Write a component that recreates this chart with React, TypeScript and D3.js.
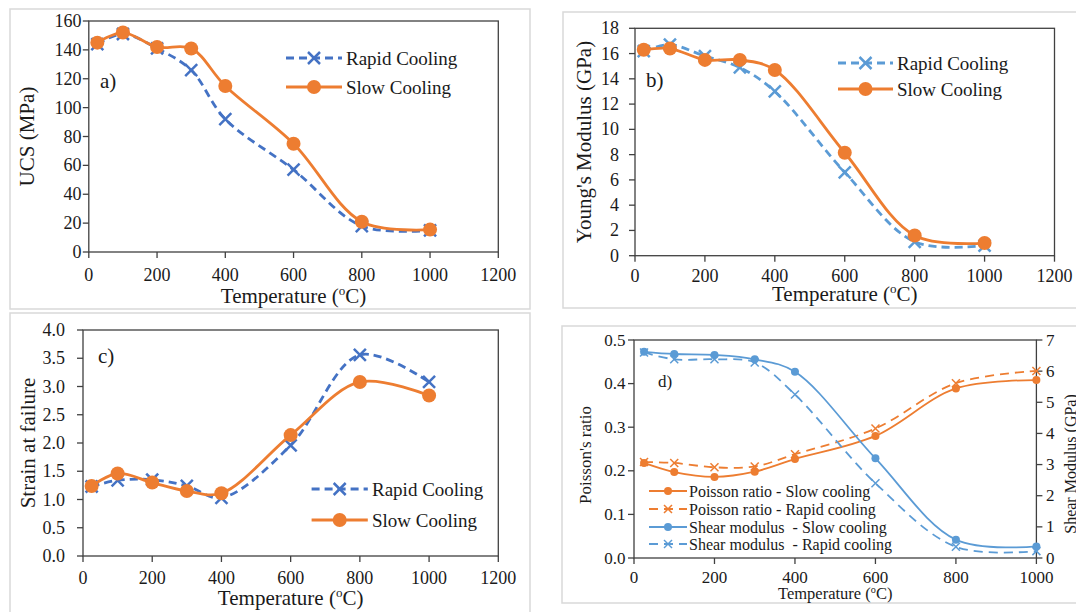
import React from 'react';
import * as d3 from 'd3';

// ---------- data ----------
const temps = [25, 100, 200, 300, 400, 600, 800, 1000];

const ucsRapid = [144, 151, 141, 126, 92, 57, 18, 15];
const ucsSlow = [145, 152, 142, 141, 115, 75, 21, 15.5];

const ymRapid = [16.2, 16.7, 15.8, 14.9, 13.0, 6.6, 1.1, 0.8];
const ymSlow = [16.3, 16.4, 15.5, 15.5, 14.7, 8.15, 1.6, 1.0];

const strainRapid = [1.23, 1.34, 1.35, 1.24, 1.03, 1.96, 3.56, 3.08];
const strainSlow = [1.24, 1.46, 1.3, 1.15, 1.11, 2.14, 3.08, 2.84];

const poissonSlow = [0.218, 0.197, 0.186, 0.198, 0.227, 0.28, 0.389, 0.408];
const poissonRapid = [0.22, 0.218, 0.208, 0.21, 0.238, 0.297, 0.401, 0.429];
const shearSlow = [6.62, 6.55, 6.52, 6.38, 5.98, 3.2, 0.59, 0.37];
const shearRapid = [6.6, 6.38, 6.38, 6.28, 5.25, 2.4, 0.36, 0.22];

const ticks1200 = [0, 200, 400, 600, 800, 1000, 1200];
const ticks1000 = [0, 200, 400, 600, 800, 1000];

const FONT = "'Liberation Serif', 'Times New Roman', serif";
const ORANGE = '#ED7D31';
const BLUE_DARK = '#4472C4';
const BLUE_LIGHT = '#5B9BD5';
const AXIS = '#404040';
const TEXT = '#1a1a1a';
const FRAME = '#d9d9d9';

type Pt = [number, number];

const curve = d3.curveCatmullRom.alpha(0.5);

function Cross({ x, y, s, color, w }: { x: number; y: number; s: number; color: string; w: number }) {
  return (
    <g stroke={color} strokeWidth={w}>
      <line x1={x - s} y1={y - s} x2={x + s} y2={y + s} />
      <line x1={x - s} y1={y + s} x2={x + s} y2={y - s} />
    </g>
  );
}

function TempTitle({ x, y, size }: { x: number; y: number; size: number }) {
  return (
    <text x={x} y={y} textAnchor="middle" fontSize={size} fontFamily={FONT} fill={TEXT}>
      Temperature (<tspan fontSize={size * 0.62} dy={-size * 0.38}>o</tspan>
      <tspan dy={size * 0.38}>C)</tspan>
    </text>
  );
}

interface SeriesDef {
  values: number[];
  color: string;
  dashed: boolean;
  marker: 'circle' | 'cross';
  axis?: 'left' | 'right';
}

function drawSeries(
  s: SeriesDef,
  x: d3.ScaleLinear<number, number>,
  y: d3.ScaleLinear<number, number>,
  lw: number,
  dash: string,
  r: number,
  cs: number,
  cw: number,
  key: string
) {
  const pts: Pt[] = temps.map((t, i) => [x(t), y(s.values[i])]);
  const line = d3.line<Pt>().curve(curve)(pts) || '';
  return (
    <g key={key}>
      <path d={line} fill="none" stroke={s.color} strokeWidth={lw} strokeDasharray={s.dashed ? dash : undefined} />
      {pts.map((p, i) =>
        s.marker === 'circle' ? (
          <circle key={i} cx={p[0]} cy={p[1]} r={r} fill={s.color} />
        ) : (
          <Cross key={i} x={p[0]} y={p[1]} s={cs} color={s.color} w={cw} />
        )
      )}
    </g>
  );
}

interface PanelProps {
  frame: [number, number, number, number];
  xr: [number, number];
  xmax: number;
  xticks: number[];
  yr: [number, number];
  ymax: number;
  ystep: number;
  yfmt: (v: number) => string;
  yLabelEnd: number;
  xLabelY: number;
  yTitle: string;
  yTitleX: number;
  xTitleY: number;
  label: string;
  labelPos: [number, number];
  series: SeriesDef[];
  rapidColor: string;
  legend: { x1: number; x2: number; y1: number; y2: number; tx: number };
}

function Panel(p: PanelProps) {
  const x = d3.scaleLinear().domain([0, p.xmax]).range(p.xr);
  const y = d3.scaleLinear().domain([0, p.ymax]).range(p.yr);
  const yticks = d3.range(0, p.ymax + p.ystep / 2, p.ystep);
  const [fx, fy, fw, fh] = p.frame;
  const L = p.legend;
  const mid = (L.x1 + L.x2) / 2;
  return (
    <g>
      <rect x={fx} y={fy} width={fw} height={fh} fill="#fff" stroke={FRAME} strokeWidth={1.5} />
      <rect x={p.xr[0]} y={p.yr[1]} width={p.xr[1] - p.xr[0]} height={p.yr[0] - p.yr[1]} fill="none" stroke={AXIS} strokeWidth={1.3} />
      {p.xticks.map((t) => (
        <g key={'xt' + t}>
          <line x1={x(t)} x2={x(t)} y1={p.yr[0]} y2={p.yr[0] + 6} stroke={AXIS} strokeWidth={1.3} />
          <text x={x(t)} y={p.xLabelY} textAnchor="middle" dominantBaseline="central" fontSize={18} fontFamily={FONT} fill={TEXT}>
            {t}
          </text>
        </g>
      ))}
      {yticks.map((t) => (
        <g key={'yt' + t}>
          <line x1={p.xr[0] - 6} x2={p.xr[0]} y1={y(t)} y2={y(t)} stroke={AXIS} strokeWidth={1.3} />
          <text x={p.yLabelEnd} y={y(t)} textAnchor="end" dominantBaseline="central" fontSize={18} fontFamily={FONT} fill={TEXT}>
            {p.yfmt(t)}
          </text>
        </g>
      ))}
      {p.series.map((s, i) => drawSeries(s, x, y, 2.8, '8 5', 7, 6, 2.5, 's' + i))}
      <text x={p.labelPos[0]} y={p.labelPos[1]} fontSize={21} fontFamily={FONT} fill={TEXT}>
        {p.label}
      </text>
      <TempTitle x={(p.xr[0] + p.xr[1]) / 2} y={p.xTitleY} size={21} />
      <text
        transform={`translate(${p.yTitleX},${(p.yr[0] + p.yr[1]) / 2}) rotate(-90)`}
        textAnchor="middle"
        dominantBaseline="central"
        fontSize={21}
        fontFamily={FONT}
        fill={TEXT}
      >
        {p.yTitle}
      </text>
      {/* legend */}
      <line x1={L.x1} x2={L.x2} y1={L.y1} y2={L.y1} stroke={p.rapidColor} strokeWidth={2.8} strokeDasharray="8 5" />
      <Cross x={mid} y={L.y1} s={6} color={p.rapidColor} w={2.5} />
      <text x={L.tx} y={L.y1} dominantBaseline="central" fontSize={19} fontFamily={FONT} fill={TEXT}>
        Rapid Cooling
      </text>
      <line x1={L.x1} x2={L.x2} y1={L.y2} y2={L.y2} stroke={ORANGE} strokeWidth={2.8} />
      <circle cx={mid} cy={L.y2} r={7} fill={ORANGE} />
      <text x={L.tx} y={L.y2} dominantBaseline="central" fontSize={19} fontFamily={FONT} fill={TEXT}>
        Slow Cooling
      </text>
    </g>
  );
}

function PanelD() {
  const xr: [number, number] = [634, 1036.4];
  const yr: [number, number] = [558, 340];
  const x = d3.scaleLinear().domain([0, 1000]).range(xr);
  const yL = d3.scaleLinear().domain([0, 0.5]).range(yr);
  const yR = d3.scaleLinear().domain([0, 7]).range(yr);
  const lticks = d3.range(0, 0.55, 0.1);
  const rticks = d3.range(0, 8, 1);
  const series: { s: SeriesDef; label: string }[] = [
    { s: { values: poissonSlow, color: ORANGE, dashed: false, marker: 'circle', axis: 'left' }, label: 'Poisson ratio - Slow cooling' },
    { s: { values: poissonRapid, color: ORANGE, dashed: true, marker: 'cross', axis: 'left' }, label: 'Poisson ratio - Rapid cooling' },
    { s: { values: shearSlow, color: BLUE_LIGHT, dashed: false, marker: 'circle', axis: 'right' }, label: 'Shear modulus  - Slow cooling' },
    { s: { values: shearRapid, color: BLUE_LIGHT, dashed: true, marker: 'cross', axis: 'right' }, label: 'Shear modulus  - Rapid cooling' },
  ];
  const legY = [491, 509, 527, 544];
  return (
    <g>
      <rect x={562} y={326} width={540} height={277} fill="#fff" stroke={FRAME} strokeWidth={1.5} />
      <rect x={xr[0]} y={yr[1]} width={xr[1] - xr[0]} height={yr[0] - yr[1]} fill="none" stroke={AXIS} strokeWidth={1.3} />
      {ticks1000.map((t) => (
        <g key={'xt' + t}>
          <line x1={x(t)} x2={x(t)} y1={yr[0]} y2={yr[0] + 6} stroke={AXIS} strokeWidth={1.3} />
          <text x={x(t)} y={577.5} textAnchor="middle" dominantBaseline="central" fontSize={17} fontFamily={FONT} fill={TEXT}>
            {t}
          </text>
        </g>
      ))}
      {lticks.map((t) => (
        <g key={'yl' + t}>
          <line x1={xr[0] - 6} x2={xr[0]} y1={yL(t)} y2={yL(t)} stroke={AXIS} strokeWidth={1.3} />
          <text x={625.5} y={yL(t)} textAnchor="end" dominantBaseline="central" fontSize={17} fontFamily={FONT} fill={TEXT}>
            {d3.format('.1f')(t)}
          </text>
        </g>
      ))}
      {rticks.map((t) => (
        <g key={'yr' + t}>
          <line x1={xr[1]} x2={xr[1] + 6} y1={yR(t)} y2={yR(t)} stroke={AXIS} strokeWidth={1.3} />
          <text x={1046} y={yR(t)} textAnchor="start" dominantBaseline="central" fontSize={17} fontFamily={FONT} fill={TEXT}>
            {t}
          </text>
        </g>
      ))}
      {series.map(({ s }, i) => drawSeries(s, x, s.axis === 'left' ? yL : yR, 1.8, '9 6', 4, 4, 1.5, 'd' + i))}
      <text x={658} y={387} fontSize={17} fontFamily={FONT} fill={TEXT}>
        d)
      </text>
      <TempTitle x={(xr[0] + xr[1]) / 2} y={599} size={16.5} />
      <text transform="translate(585,455) rotate(-90)" textAnchor="middle" dominantBaseline="central" fontSize={17} fontFamily={FONT} fill={TEXT}>
        Poisson's ratio
      </text>
      <text transform="translate(1070,464) rotate(-90)" textAnchor="middle" dominantBaseline="central" fontSize={16} fontFamily={FONT} fill={TEXT}>
        Shear Modulus (GPa)
      </text>
      {series.map(({ s, label }, i) => (
        <g key={'lg' + i}>
          <line x1={649} x2={687} y1={legY[i]} y2={legY[i]} stroke={s.color} strokeWidth={1.8} strokeDasharray={s.dashed ? '9 6' : undefined} />
          {s.marker === 'circle' ? (
            <circle cx={668} cy={legY[i]} r={4} fill={s.color} />
          ) : (
            <Cross x={668} y={legY[i]} s={4} color={s.color} w={1.5} />
          )}
          <text x={689} y={legY[i]} dominantBaseline="central" fontSize={16} fontFamily={FONT} fill={TEXT} xmlSpace="preserve">
            {label}
          </text>
        </g>
      ))}
    </g>
  );
}

export default function App() {
  return (
    <svg
      width={1076}
      height={612}
      viewBox="0 0 1076 612"
      style={{ position: 'absolute', left: 0, top: 0, background: '#fff' }}
    >
      <rect x={0} y={0} width={1076} height={612} fill="#fff" />
      <Panel
        frame={[10, 9, 520, 300]}
        xr={[88.8, 498.3]}
        xmax={1200}
        xticks={ticks1200}
        yr={[252, 21]}
        ymax={160}
        ystep={20}
        yfmt={(v) => String(v)}
        yLabelEnd={81.5}
        xLabelY={275}
        yTitle="UCS (MPa)"
        yTitleX={27}
        xTitleY={303}
        label="a)"
        labelPos={[100, 88]}
        rapidColor={BLUE_DARK}
        series={[
          { values: ucsRapid, color: BLUE_DARK, dashed: true, marker: 'cross' },
          { values: ucsSlow, color: ORANGE, dashed: false, marker: 'circle' },
        ]}
        legend={{ x1: 286, x2: 342, y1: 58, y2: 87, tx: 346 }}
      />
      <Panel
        frame={[563, 12, 540, 296]}
        xr={[635, 1054.5]}
        xmax={1200}
        xticks={ticks1200}
        yr={[255.7, 28.3]}
        ymax={18}
        ystep={2}
        yfmt={(v) => String(v)}
        yLabelEnd={619}
        xLabelY={276}
        yTitle="Young's Modulus (GPa)"
        yTitleX={584}
        xTitleY={301}
        label="b)"
        labelPos={[646, 87]}
        rapidColor={BLUE_LIGHT}
        series={[
          { values: ymRapid, color: BLUE_LIGHT, dashed: true, marker: 'cross' },
          { values: ymSlow, color: ORANGE, dashed: false, marker: 'circle' },
        ]}
        legend={{ x1: 838, x2: 893, y1: 63, y2: 89, tx: 897 }}
      />
      <Panel
        frame={[10, 313, 520, 310]}
        xr={[83, 498.3]}
        xmax={1200}
        xticks={ticks1200}
        yr={[556, 330]}
        ymax={4}
        ystep={0.5}
        yfmt={(v) => d3.format('.1f')(v)}
        yLabelEnd={65}
        xLabelY={578}
        yTitle="Strain at failure"
        yTitleX={27.5}
        xTitleY={605}
        label="c)"
        labelPos={[98, 363]}
        rapidColor={BLUE_DARK}
        series={[
          { values: strainRapid, color: BLUE_DARK, dashed: true, marker: 'cross' },
          { values: strainSlow, color: ORANGE, dashed: false, marker: 'circle' },
        ]}
        legend={{ x1: 311.6, x2: 367.8, y1: 489, y2: 520, tx: 372 }}
      />
      <PanelD />
    </svg>
  );
}
